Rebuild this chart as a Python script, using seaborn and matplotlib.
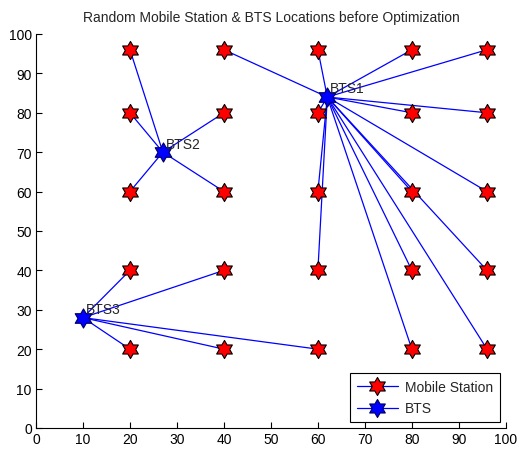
import numpy as np
import matplotlib
matplotlib.use("Agg")
import matplotlib.pyplot as plt
import seaborn as sns
from matplotlib.lines import Line2D
from matplotlib.path import Path

# mobile stations (grid) and the BTS each one is linked to
ms_x = [20, 40, 60, 80, 96] * 5
ms_y = [96] * 5 + [80] * 5 + [60] * 5 + [40] * 5 + [20] * 5
ms_bts = [2, 1, 1, 1, 1,
          2, 2, 1, 1, 1,
          2, 2, 1, 1, 1,
          3, 3, 1, 1, 1,
          3, 3, 3, 1, 1]

bts_x = [62, 27, 10]
bts_y = [84, 70, 28]
bts_names = ["BTS1", "BTS2", "BTS3"]

sns.set_style("white")
plt.rcParams["font.family"] = ["Liberation Sans", "DejaVu Sans"]

# MATLAB-like hexagram marker
ang = np.pi / 2 + np.arange(12) * np.pi / 6
rad = np.where(np.arange(12) % 2 == 0, 1.0, 0.577)
verts = np.column_stack([rad * np.cos(ang), rad * np.sin(ang)])
verts = np.vstack([verts, verts[:1]])
hexagram = Path(verts, [Path.MOVETO] + [Path.LINETO] * 11 + [Path.CLOSEPOLY])

fig = plt.figure(figsize=(5.18, 4.52), dpi=100)
ax = fig.add_axes([0.0695, 0.051, 0.907, 0.8716])

# links
for x, y, b in zip(ms_x, ms_y, ms_bts):
    ax.plot([bts_x[b - 1], x], [bts_y[b - 1], y], color="blue", lw=0.9, zorder=1)

sns.scatterplot(x=ms_x, y=ms_y, marker=hexagram, s=170, color="red",
                edgecolor="black", linewidth=0.8, ax=ax, zorder=3, legend=False)
sns.scatterplot(x=bts_x, y=bts_y, marker=hexagram, s=190, color="blue",
                edgecolor="#000060", linewidth=0.8, ax=ax, zorder=4, legend=False)

for x, y, name in zip(bts_x, bts_y, bts_names):
    ax.text(x + 0.6, y + 0.4, name, fontsize=10, ha="left", va="bottom", zorder=5)

ax.set_xlim(0, 100)
ax.set_ylim(0, 100)
ax.set_xticks(np.arange(0, 101, 10))
ax.set_yticks(np.arange(0, 101, 10))
ax.tick_params(direction="in", length=4, width=0.8, labelsize=10, pad=3,
               bottom=True, left=True, colors="black")
for s in ["top", "right"]:
    ax.spines[s].set_visible(False)
for s in ["left", "bottom"]:
    ax.spines[s].set_color("black")
    ax.spines[s].set_linewidth(0.8)

ax.set_title("Random Mobile Station & BTS Locations before Optimization",
             fontsize=10, pad=9)

handles = [
    Line2D([0], [0], color="blue", lw=0.9, marker=hexagram, markersize=13,
           markerfacecolor="red", markeredgecolor="black", markeredgewidth=0.8),
    Line2D([0], [0], color="blue", lw=0.9, marker=hexagram, markersize=13,
           markerfacecolor="blue", markeredgecolor="#000060", markeredgewidth=0.8),
]
leg = ax.legend(handles, ["Mobile Station", "BTS"], loc="lower right",
                fontsize=10, fancybox=False, framealpha=1, edgecolor="black",
                borderaxespad=0.4, handlelength=3.0, handletextpad=0.5,
                labelspacing=0.55, borderpad=0.5)
leg.get_frame().set_linewidth(0.8)

fig.savefig("out.png", dpi=100)
